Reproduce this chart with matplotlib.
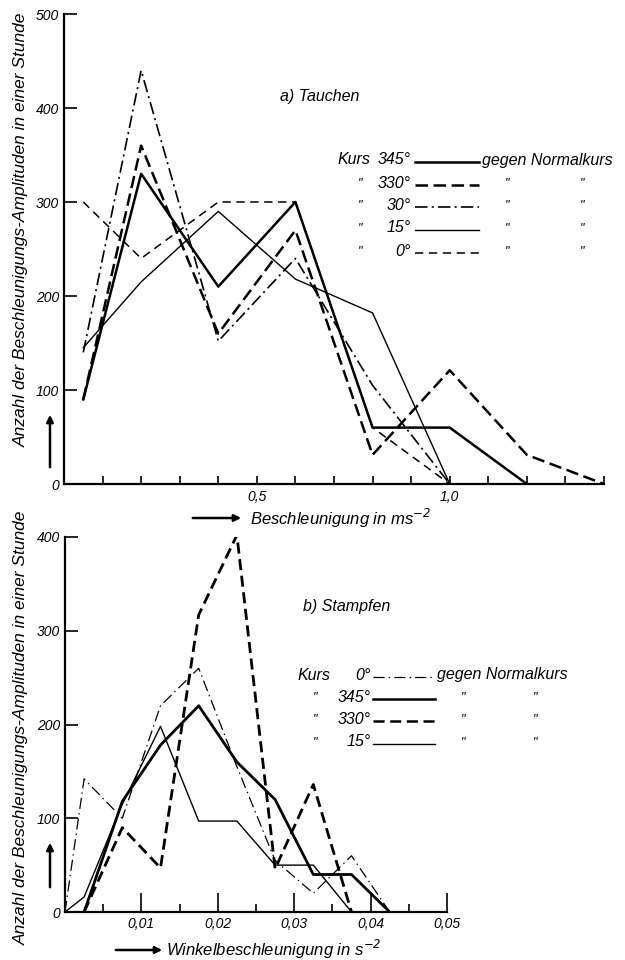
import matplotlib
matplotlib.use("Agg")
import matplotlib.pyplot as plt
from matplotlib.lines import Line2D
from matplotlib.ticker import MultipleLocator

plt.rcParams['font.family'] = ['Liberation Sans', 'DejaVu Sans']
plt.rcParams['font.style'] = 'italic'
plt.rcParams['mathtext.default'] = 'it'
plt.rcParams['lines.scale_dashes'] = False

# a) Tauchen
tauchen_x = [0.05, 0.2, 0.4, 0.6, 0.8, 1.0, 1.2, 1.4]
tauchen_345 = [90, 330, 210, 300, 60, 60, 0]
tauchen_330 = [90, 360, 160, 270, 31, 121, 31, 0]
tauchen_30 = [140, 440, 152, 240, 105, 0]
tauchen_15 = [145, 215, 290, 218, 182, 0]
tauchen_0 = [300, 240, 300, 300, 60, 0]

# b) Stampfen
stampf_x = [0, 0.0025, 0.0075, 0.0125, 0.0175, 0.0225, 0.0275, 0.0325, 0.0375, 0.0425]
stampfen_0 = [0, 142, 100, 220, 260, 155, 55, 20, 60, 0]
stampfen_345 = [0, 118, 178, 220, 160, 120, 40, 40, 0]      # ab 0.0025
stampfen_330 = [0, 90, 47, 317, 402, 46, 136, 0]            # ab 0.0025
stampfen_15 = [0, 16, 115, 198, 97, 97, 50, 50, 0]          # ab 0

W, H = 625, 960
fig = plt.figure(figsize=(6.25, 9.6), dpi=100)


def fx(x):
    return x / W


def fy(y):
    return 1 - y / H


sty = {
    's345': dict(color='k', lw=1.8, ls='-'),
    's330': dict(color='k', lw=1.8, ls=(0, (9, 4))),
    's30': dict(color='k', lw=1.2, ls=(0, (9, 3, 1.5, 3))),
    's15': dict(color='k', lw=1.0, ls='-'),
    's0': dict(color='k', lw=1.1, ls=(0, (6, 4))),
}


def style_axes(ax):
    for s in ['top', 'right']:
        ax.spines[s].set_visible(False)
    for s in ['left', 'bottom']:
        ax.spines[s].set_linewidth(1.6)
    ax.tick_params(which='both', direction='in', labelsize=10, width=1.2)
    ax.tick_params(which='major', length=9)
    ax.tick_params(which='minor', length=6)


# ---------- oben ----------
ax1 = fig.add_axes([fx(64), fy(484), fx(604) - fx(64), fy(14) - fy(484)])
ax1.plot(tauchen_x[:len(tauchen_345)], tauchen_345, **sty['s345'])
ax1.plot(tauchen_x[:len(tauchen_330)], tauchen_330, **sty['s330'])
ax1.plot(tauchen_x[:len(tauchen_30)], tauchen_30, **sty['s30'])
ax1.plot(tauchen_x[:len(tauchen_15)], tauchen_15, **sty['s15'])
ax1.plot(tauchen_x[:len(tauchen_0)], tauchen_0, **sty['s0'])
ax1.set_xlim(0, 1.4)
ax1.set_ylim(0, 500)
style_axes(ax1)
ax1.set_xticks([0.5, 1.0])
ax1.set_xticklabels(['0,5', '1,0'])
ax1.xaxis.set_minor_locator(MultipleLocator(0.1))
ax1.set_yticks([0, 100, 200, 300, 400, 500])
ax1.tick_params(axis='x', which='major', length=6, pad=4)

# ---------- unten ----------
ax2 = fig.add_axes([fx(65), fy(912), fx(447) - fx(65), fy(537) - fy(912)])
ax2.plot(stampf_x, stampfen_0, color='k', lw=0.9, ls=(0, (8, 3, 1, 3)))
ax2.plot(stampf_x[1:1 + len(stampfen_345)], stampfen_345, color='k', lw=2.0)
ax2.plot(stampf_x[1:1 + len(stampfen_330)], stampfen_330, color='k', lw=2.0, ls=(0, (8, 4)))
ax2.plot(stampf_x[:len(stampfen_15)], stampfen_15, color='k', lw=1.0)
ax2.set_xlim(0, 0.05)
ax2.set_ylim(0, 400)
style_axes(ax2)
ax2.set_xticks([0.01, 0.02, 0.03, 0.04, 0.05])
ax2.set_xticklabels(['0,01', '0,02', '0,03', '0,04', '0,05'])
ax2.xaxis.set_minor_locator(MultipleLocator(0.005))
ax2.set_yticks([0, 100, 200, 300, 400])
ax2.tick_params(axis='x', which='major', length=14)

# ---------- Beschriftung ----------
ylab = 'Anzahl der Beschleunigungs-Amplituden in einer Stunde'
fig.text(fx(21), fy(230), ylab, rotation=90, ha='center', va='center', fontsize=12.5)
fig.text(fx(21), fy(728), ylab, rotation=90, ha='center', va='center', fontsize=12.5)


def arrow(x0, y0, x1, y1):
    fig.add_artist(matplotlib.patches.FancyArrowPatch(
        (fx(x0), fy(y0)), (fx(x1), fy(y1)), transform=fig.transFigure,
        arrowstyle='-|>', mutation_scale=10, lw=1.8, color='k'))


arrow(50, 470, 50, 412)
arrow(50, 890, 50, 840)
arrow(190, 518, 244, 518)
arrow(113, 950, 165, 950)
fig.text(fx(250), fy(518), r'Beschleunigung in ms$^{-2}$', ha='left', va='center', fontsize=12)
fig.text(fx(166), fy(949), r'Winkelbeschleunigung in s$^{-2}$', ha='left', va='center', fontsize=12)

fig.text(fx(280), fy(96), 'a) Tauchen', ha='left', va='center', fontsize=11.5)
fig.text(fx(303), fy(607), 'b) Stampfen', ha='left', va='center', fontsize=11.5)

# Legende oben
rows_a = [160, 183, 205, 228, 251]
labs_a = ['345°', '330°', '30°', '15°', '0°']
keys_a = ['s345', 's330', 's30', 's15', 's0']
fig.text(fx(338), fy(rows_a[0]), 'Kurs', ha='left', va='center', fontsize=11.5)
for i, (r, lab, k) in enumerate(zip(rows_a, labs_a, keys_a)):
    fig.text(fx(411), fy(r), lab, ha='right', va='center', fontsize=11.5)
    fig.add_artist(Line2D([fx(415), fx(479)], [fy(r + 2), fy(r + 2)], **sty[k]))
    if i == 0:
        fig.text(fx(482), fy(r), 'gegen Normalkurs', ha='left', va='center', fontsize=11.5)
    else:
        for xd in (360, 507, 582):
            fig.text(fx(xd), fy(r), '"', ha='center', va='center', fontsize=9)

# Legende unten
rows_b = [675, 697, 719, 742]
labs_b = ['0°', '345°', '330°', '15°']
sty_b = [dict(color='k', lw=0.9, ls=(0, (8, 3, 1, 3))),
         dict(color='k', lw=1.8),
         dict(color='k', lw=1.8, ls=(0, (8, 4))),
         dict(color='k', lw=1.0)]
fig.text(fx(297), fy(rows_b[0]), 'Kurs', ha='left', va='center', fontsize=11.5)
for i, (r, lab, s) in enumerate(zip(rows_b, labs_b, sty_b)):
    fig.text(fx(371), fy(r), lab, ha='right', va='center', fontsize=11.5)
    fig.add_artist(Line2D([fx(373), fx(435)], [fy(r + 2), fy(r + 2)], **s))
    if i == 0:
        fig.text(fx(437), fy(r), 'gegen Normalkurs', ha='left', va='center', fontsize=11.5)
    else:
        for xd in (315, 463, 535):
            fig.text(fx(xd), fy(r), '"', ha='center', va='center', fontsize=9)

fig.savefig('out.png', dpi=100)
